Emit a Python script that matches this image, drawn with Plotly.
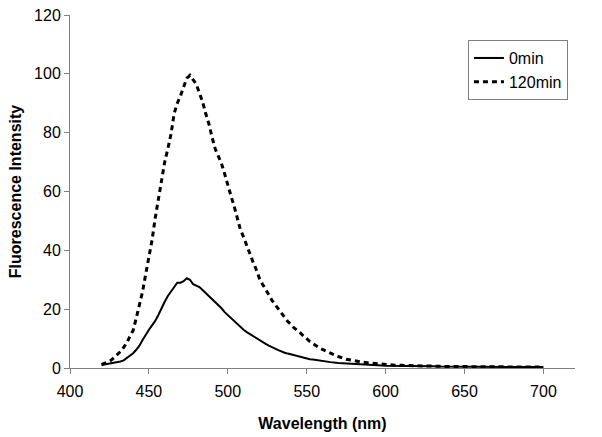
import plotly.graph_objects as go

wl_a = list(range(420, 561, 2)) + list(range(565, 701, 5))

int_0min = [1.0, 1.2, 1.4, 1.5, 1.7, 2.0, 2.2, 2.6, 3.3, 4.2,
            5.0, 6.2, 7.6, 9.5, 11.5, 13.0, 14.5, 16.0, 18.0, 20.5,
            22.5, 24.5, 26.0, 27.5, 29.0, 29.0, 29.5, 30.5, 30.0, 28.5,
            28.0, 27.5, 26.5, 25.5, 24.5, 23.5, 22.5, 21.2, 20.3, 19.0,
            18.0, 16.8, 15.8, 14.8, 13.8, 13.0, 12.2, 11.5, 10.8, 10.0,
            9.4, 8.8, 8.2, 7.6, 7.2, 6.6, 6.1, 5.6, 5.2, 4.9,
            4.6, 4.3, 4.0, 3.7, 3.5, 3.3, 3.0, 2.9, 2.7, 2.5,
            2.3,
            2.0, 1.7, 1.5, 1.3, 1.1, 1.0, 0.9, 0.8, 0.8, 0.7,
            0.7, 0.6, 0.6, 0.6, 0.5, 0.5, 0.5, 0.5, 0.4, 0.4,
            0.4, 0.4, 0.4, 0.3, 0.3, 0.3, 0.3, 0.3]

int_120min = [1.2, 1.5, 2.0, 2.6, 3.5, 4.4, 5.6, 7.0, 8.6, 10.8,
              12.8, 17.0, 21.5, 26.0, 32.0, 37.5, 43.5, 51.0, 57.0, 64.0,
              70.0, 74.5, 79.5, 86.5, 90.0, 92.5, 95.5, 98.5, 99.5, 98.0,
              96.5, 93.5, 90.5, 86.5, 83.0, 78.5, 74.5, 72.0, 69.5, 66.0,
              62.0, 58.5, 55.0, 50.5, 47.0, 44.5, 41.5, 38.5, 36.0, 33.5,
              30.5, 28.5, 26.5, 25.0, 23.0, 21.5, 20.0, 18.5, 17.0, 15.8,
              14.8, 13.6, 12.8, 11.8, 10.8, 9.8, 9.0, 8.3, 7.5, 6.9,
              6.3,
              5.0, 3.9, 3.0, 2.4, 2.0, 1.7, 1.4, 1.2, 1.0, 0.9,
              0.8, 0.7, 0.7, 0.6, 0.6, 0.5, 0.5, 0.5, 0.4, 0.4,
              0.4, 0.4, 0.3, 0.3, 0.3, 0.3, 0.3, 0.3]

series_names = ["0min", "120min"]
x_ticks = [400, 450, 500, 550, 600, 650, 700]
y_ticks = [0, 20, 40, 60, 80, 100, 120]

FONT = "Liberation Sans, Arial, sans-serif"

fig = go.Figure()
fig.add_trace(go.Scatter(x=wl_a, y=int_0min, mode="lines", name=series_names[0],
                         legendgroup="a",
                         line=dict(color="black", width=2)))
fig.add_trace(go.Scatter(x=wl_a, y=int_120min, mode="lines", name=series_names[1],
                         legendgroup="b",
                         line=dict(color="black", width=3, dash="5px,4px")))

axis_common = dict(showgrid=False, zeroline=False, showline=True, linecolor="#808080",
                   linewidth=1, ticks="outside", ticklen=5, tickcolor="#808080",
                   automargin=False,
                   tickfont=dict(family=FONT, size=16, color="black"))

fig.update_xaxes(range=[400, 720], tickvals=x_ticks, ticklabelstandoff=4,
                 title=dict(text="<b>Wavelength (nm)</b>", font=dict(family=FONT, size=16, color="black"),
                            standoff=18),
                 **axis_common)
fig.update_yaxes(range=[0, 120], tickvals=y_ticks,
                 title=dict(text="<b>Fluorescence Intensity</b>", font=dict(family=FONT, size=16, color="black"),
                            standoff=8),
                 **axis_common)

fig.update_layout(
    width=602, height=437,
    margin=dict(l=70, r=27, t=15, b=69),
    paper_bgcolor="white", plot_bgcolor="white",
    showlegend=True,
    legend=dict(x=0.788, y=0.929, xanchor="left", yanchor="top",
                bordercolor="#808080", borderwidth=1, bgcolor="white",
                font=dict(family=FONT, size=16, color="black"),
                tracegroupgap=0),
)

fig.write_html("out.html", config={"displayModeBar": False},
               post_script="document.body.style.margin='0';")
